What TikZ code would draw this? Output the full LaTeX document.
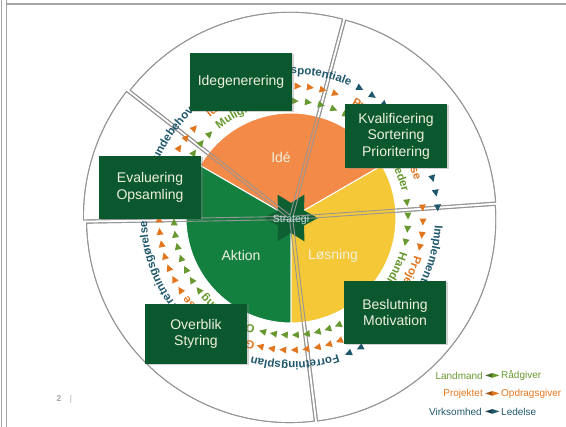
\documentclass[tikz,border=0pt]{standalone}
\usepackage{fontspec}
\setmainfont{Liberation Sans}
\newfontfamily\symfont{DejaVu Sans}
\usetikzlibrary{calc,decorations.text,shadows}
\definecolor{tealc}{RGB}{31,88,108}
\definecolor{orangec}{RGB}{226,118,30}
\definecolor{greenc}{RGB}{104,152,48}
\definecolor{pieorange}{RGB}{244,138,72}
\definecolor{pieyellow}{RGB}{245,200,55}
\definecolor{piegreen}{RGB}{20,128,64}
\definecolor{boxgreen}{RGB}{12,88,46}
\definecolor{starc}{RGB}{14,96,50}
\definecolor{lighttext}{RGB}{238,240,222}
\definecolor{stratc}{RGB}{205,225,230}
\definecolor{framegray}{RGB}{165,165,165}
\definecolor{ringgray}{RGB}{150,150,150}
\newcommand\ringfmt{\fontsize{11.5}{13}\selectfont\bfseries}
\newcommand\arctext[5]{\path[decorate,decoration={text along path,text align=left,text={|\ringfmt\color{#1}|#5}}] ($(C)+(#3:#2pt)$) arc[start angle=#3,end angle=#4,radius=#2pt];}
\newcommand\ringtri[3]{\fill[#1,shift={(C)},rotate=#3] (#2-3.5,3.3) -- (#2+3.5,3.3) -- (#2,-3.6) -- cycle;}
\newcommand\outersector[4]{\path[#4] ($(C)+(#3)$) -- +(#1:203pt) arc[start angle=#1,end angle=#2,radius=203pt] -- cycle;}
\tikzset{
  ringfill/.style={fill=white,draw=ringgray,line width=0.9pt},
  ringline/.style={draw=ringgray,line width=0.9pt},
  piesec/.style={draw=white,line width=1pt},
  box/.style={fill=boxgreen,text=lighttext,align=center,inner sep=0pt,
    minimum width=102pt,font=\fontsize{14}{16.5}\selectfont,
    drop shadow={opacity=0.35,shadow xshift=1.5pt,shadow yshift=-1.5pt}},
  pielabel/.style={text=lighttext,font=\fontsize{14}{16}\selectfont},
  legend/.style={font=\fontsize{10}{12}\selectfont,inner sep=0pt},
  legarrow/.style={font=\symfont\fontsize{10}{10}\selectfont,inner sep=0pt},
  frameline/.style={draw=framegray,line width=1.2pt}
}
\begin{document}
\begin{tikzpicture}[x=1pt,y=1pt]
\useasboundingbox (0,0) rectangle (566,427);
\coordinate (C) at (291,209);
% frame
\draw[frameline] (1.5,0) -- (1.5,427);
\draw[frameline] (6.5,0) -- (6.5,427);
\draw[frameline] (6.5,423) -- (566,423);
% outer ring sectors (exploded)
\outersector{4}{75}{39.5:2.76}{ringfill}
\outersector{75}{142}{108.5:2.9}{ringfill}
\outersector{142}{181}{161.5:4.79}{ringfill}
\outersector{181}{277}{229:2.15}{ringfill}
\outersector{277}{364}{320.5:2.32}{ringfill}
% pie
\path[piesec,fill=pieorange] (C) -- +(30:105pt) arc[start angle=30,end angle=150,radius=105pt] -- cycle;
\path[piesec,fill=piegreen] (C) -- +(150:105pt) arc[start angle=150,end angle=270,radius=105pt] -- cycle;
\path[piesec,fill=pieyellow] (C) -- +(270:105pt) arc[start angle=270,end angle=390,radius=105pt] -- cycle;
% star
\fill[starc,shift={(C)}] (0:27) -- (30:15) -- (60:27) -- (90:15) -- (120:27) -- (150:15)
  -- (180:27) -- (210:15) -- (240:27) -- (270:15) -- (300:27) -- (330:15) -- cycle;
% sector outlines over the pie
\outersector{4}{75}{39.5:2.76}{ringline}
\outersector{75}{142}{108.5:2.9}{ringline}
\outersector{142}{181}{161.5:4.79}{ringline}
\outersector{181}{277}{229:2.15}{ringline}
\outersector{277}{364}{320.5:2.32}{ringline}
% teal ring
\arctext{tealc}{144}{160}{100}{Kundebehov}
\arctext{tealc}{144}{113}{40}{Forretningspotentiale}
\arctext{tealc}{144}{-3}{-60}{Implementering}
\arctext{tealc}{144}{-71}{-130}{Forretningsplan}
\arctext{tealc}{144}{-137}{-200}{Forretningsgørelse}
\foreach \a in {62,56.2,50.4,44.6,38.8,33,27.2,21.4,15.6,9.8,4,-42,-47,-52,-57,-62,-67}{\ringtri{tealc}{147}{\a}}
% orange ring
\arctext{orangec}{129}{129}{80}{Ideudvikling}
\arctext{orangec}{129}{62}{0}{Projektbeskrivelse}
\arctext{orangec}{129}{-17}{-70}{Projektering}
\arctext{orangec}{129}{-106}{-160}{Gennemførelse}
\foreach \a in {87,81.6,76,70.3,4.4,-1.7,-7.5,-12.8,-53.5,-58.5,-63.5,-68.5,-73.5,-78.5,-83.5,-88.5,-93.5,-98.5,-103.5}{\ringtri{orangec}{132}{\a}}
\foreach \k in {0,...,14}{\ringtri{orangec}{132}{137+\k*5.43}}
% green ring
\arctext{greenc}{114}{129}{80}{Muligheder}
\arctext{greenc}{114}{56.4}{0}{Valgmuligheder}
\arctext{greenc}{114}{-17}{-75}{Handlingsplan}
\arctext{greenc}{114}{-108}{-160}{Opfølgning}
\foreach \a in {88,81.5,75,68.5,62,7.5,1,-5.5,-12,-60.8,-66.2,-71.6,-77,-82.4,-87.8,-93.2,-98.6,-104}{\ringtri{greenc}{117}{\a}}
\foreach \k in {0,...,14}{\ringtri{greenc}{117}{134+\k*6}}
% boxes
\node[box,minimum height=58pt] (b1) at (241,345) {Idegenerering};
\node[box,minimum height=64pt] (b2) at (396,291) {Kvalificering\\Sortering\\Prioritering};
\node[box,minimum height=63pt] (b3) at (150,239.5) {Evaluering\\Opsamling};
\node[box,minimum height=63pt] (b4) at (395,114.5) {Beslutning\\Motivation};
\node[box,minimum height=60pt] (b5) at (196,93) {Overblik\\Styring};
% pie labels
\node[pielabel] (ide) at (281,270) {Idé};
\node[pielabel] (aktion) at (241,171) {Aktion};
\node[pielabel] (losning) at (333,171) {Løsning};
\node[text=stratc,font=\fontsize{10.5}{10.5}\selectfont,inner sep=0pt] (strat) at (291,207) {Strategi};
% legend
\node[legend,anchor=east,text=greenc] (l1) at (483,51) {Landmand};
\node[legarrow,text=greenc!70!black] (l1a) at (489,51) {◄};
\node[legarrow,text=greenc] (l1b) at (496,51) {►};
\node[legend,anchor=west,text=greenc] (l1r) at (501,51) {Rådgiver};
\node[legend,anchor=east,text=orangec] (l2) at (483,33) {Projektet};
\node[legarrow,text=orangec!70!black] (l2a) at (489,33) {◄};
\node[legarrow,text=orangec] (l2b) at (496,33) {►};
\node[legend,anchor=west,text=orangec] (l2r) at (501,33) {Opdragsgiver};
\node[legend,anchor=east,text=tealc] (l3) at (482,15) {Virksomhed};
\node[legarrow,text=tealc!70!black] (l3a) at (489,15) {◄};
\node[legarrow,text=tealc] (l3b) at (496,15) {►};
\node[legend,anchor=west,text=tealc] (l3r) at (501,15) {Ledelse};
% page number
\node[text=framegray,font=\fontsize{8.5}{9}\selectfont\bfseries,inner sep=0pt] (pg) at (59,28) {2};
\node[text=framegray,font=\fontsize{8.5}{9}\selectfont,inner sep=0pt] (pgbar) at (71,28) {|};
\end{tikzpicture}
\end{document}
